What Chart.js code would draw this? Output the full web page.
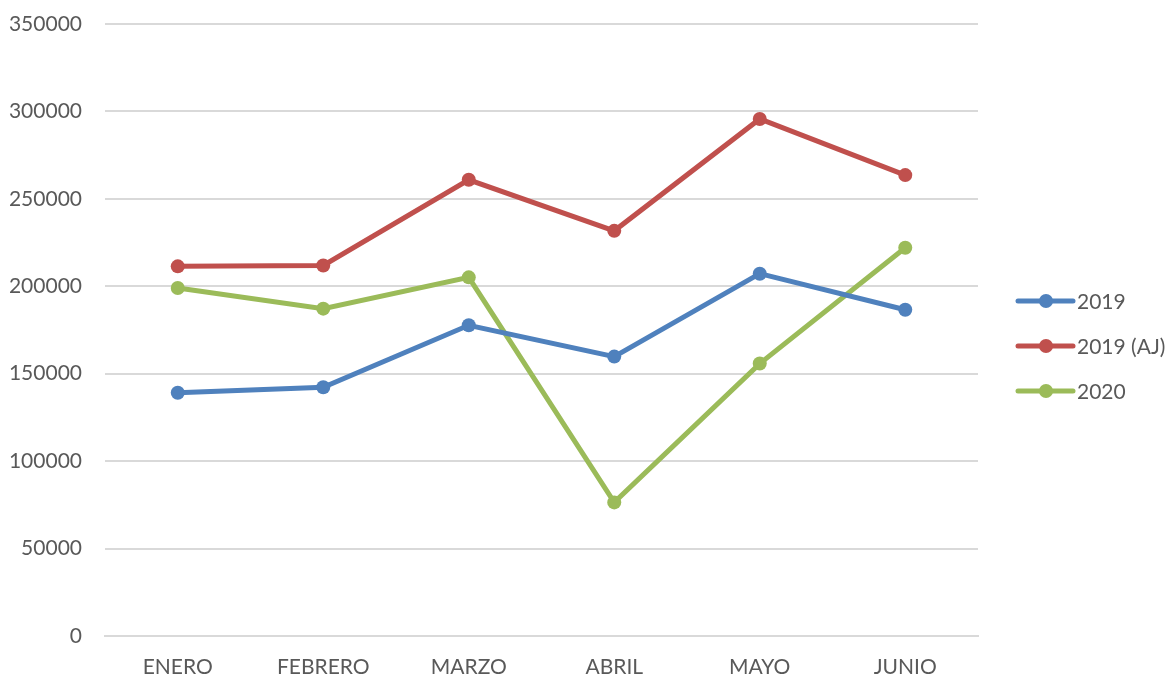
<!DOCTYPE html>
<html>
<head>
<meta charset="utf-8">
<script src="https://cdn.jsdelivr.net/npm/chart.js@4"></script>
<style>
  html, body { margin: 0; padding: 0; background: #fff; }
  #wrap { width: 1167px; height: 677px; }
</style>
</head>
<body>
<div id="wrap"><canvas id="c" width="1167" height="677"></canvas></div>
<script>
// data
const months = ['ENERO', 'FEBRERO', 'MARZO', 'ABRIL', 'MAYO', 'JUNIO'];
const ventas2019 = [139100, 142300, 177700, 159800, 207200, 186600];
const ventas2019aj = [211400, 211900, 260900, 231700, 295700, 263600];
const ventas2020 = [199000, 187200, 205100, 76400, 155800, 222000];
const seriesNames = ['2019', '2019 (AJ)', '2020'];
const seriesColors = ['#4f81bd', '#c0504d', '#9bbb59'];

const FONT = 'Lato, "Open Sans", sans-serif';
const TEXT = '#595959';
const GRID = '#d9d9d9';

// legend: line + dot + label, like the spreadsheet one
const sideLegend = {
    id: 'sideLegend',
    afterDraw(chart) {
        const ctx = chart.ctx;
        const x0 = 1018, y0 = 301, gap = 45;
        ctx.save();
        chart.data.datasets.forEach((ds, i) => {
            const y = y0 + i * gap;
            ctx.strokeStyle = ds.borderColor;
            ctx.lineWidth = 5;
            ctx.lineCap = 'round';
            ctx.beginPath();
            ctx.moveTo(x0, y);
            ctx.lineTo(x0 + 55, y);
            ctx.stroke();
            ctx.fillStyle = ds.borderColor;
            ctx.beginPath();
            ctx.arc(x0 + 28, y, 7, 0, Math.PI * 2);
            ctx.fill();
            ctx.fillStyle = TEXT;
            ctx.font = '21px ' + FONT;
            ctx.textBaseline = 'middle';
            ctx.textAlign = 'left';
            ctx.fillText(ds.label, x0 + 59, y + 1);
        });
        ctx.restore();
    }
};

const data = [ventas2019, ventas2019aj, ventas2020];

new Chart(document.getElementById('c').getContext('2d'), {
    type: 'line',
    data: {
        labels: months,
        datasets: data.map((vals, i) => ({
            label: seriesNames[i],
            data: vals,
            borderColor: seriesColors[i],
            backgroundColor: seriesColors[i],
            borderWidth: 5,
            pointRadius: 7,
            pointHoverRadius: 7,
            pointBorderWidth: 0,
            tension: 0
        }))
    },
    options: {
        responsive: false,
        animation: false,
        layout: { padding: { top: 24, right: 189, bottom: 0, left: 0 } },
        plugins: {
            legend: { display: false },
            tooltip: { enabled: false }
        },
        scales: {
            x: {
                offset: true,
                afterFit(scale) { scale.height = 41; },
                grid: { display: false },
                border: { display: true, color: GRID, width: 2 },
                ticks: {
                    color: TEXT,
                    font: { family: FONT, size: 21 },
                    padding: 11,
                    maxRotation: 0
                }
            },
            y: {
                min: 0,
                max: 350000,
                afterFit(scale) {
                    scale.width = 105;
                    scale.paddingTop = 0;
                    scale.paddingBottom = 0;
                },
                grid: { color: GRID, lineWidth: 2, drawTicks: false },
                border: { display: false },
                ticks: {
                    stepSize: 50000,
                    color: TEXT,
                    font: { family: FONT, size: 21 },
                    padding: 23,
                    callback: v => String(v)
                }
            }
        }
    },
    plugins: [sideLegend]
});
</script>
</body>
</html>
